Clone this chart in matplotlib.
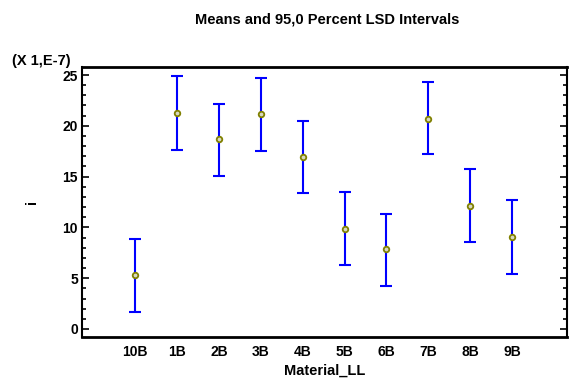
import matplotlib
matplotlib.use("Agg")
import matplotlib.pyplot as plt
from matplotlib.ticker import MultipleLocator

categories = ["10B", "1B", "2B", "3B", "4B", "5B", "6B", "7B", "8B", "9B"]
means = [5.29, 21.29, 18.70, 21.16, 16.90, 9.81, 7.84, 20.67, 12.08, 9.06]
lower = [1.64, 17.65, 15.09, 17.52, 13.42, 6.33, 4.23, 17.19, 8.60, 5.44]
upper = [8.89, 24.93, 22.18, 24.73, 20.50, 13.45, 11.32, 24.28, 15.72, 12.66]
yticks = [0, 5, 10, 15, 20, 25]

plt.rcParams['font.family'] = ['Liberation Sans', 'DejaVu Sans']
plt.rcParams['font.weight'] = 'bold'

fig = plt.figure(figsize=(5.69, 3.79), dpi=100)
ax = fig.add_axes([82/569, 1-337/379, (567-82)/569, (337-67)/379])

x = list(range(len(categories)))
yerr = [[m - l for m, l in zip(means, lower)], [u - m for m, u in zip(means, upper)]]
ax.errorbar(x, means, yerr=yerr, fmt='none', ecolor='#0000FF', elinewidth=1.5,
            capsize=4, capthick=1.5, zorder=2)
ax.plot(x, means, linestyle='none', marker='o', markersize=4,
        markerfacecolor='#D8D8C0', markeredgecolor='#808000', markeredgewidth=1.3, zorder=3)

ax.set_xlim(-1.27, 10.31)
ax.set_ylim(-0.79, 25.79)
ax.set_xticks(x)
ax.set_xticklabels(categories, fontsize=10, fontweight='bold')
ax.tick_params(axis='x', length=0, pad=6)
ax.set_yticks(yticks)
ax.set_yticklabels([str(v) for v in yticks], fontsize=10, fontweight='bold')
ax.yaxis.set_minor_locator(MultipleLocator(1))
ax.tick_params(axis='y', which='major', direction='in', length=5, width=1.2,
               left=True, right=True, pad=3)
ax.tick_params(axis='y', which='minor', direction='in', length=3, width=1.2,
               left=True, right=True)

for side in ['top', 'bottom']:
    ax.spines[side].set_linewidth(2)
for side in ['left', 'right']:
    ax.spines[side].set_linewidth(1.5)

ax.set_xlabel("Material_LL", fontsize=10.5, fontweight='bold', labelpad=3)
ax.set_ylabel("i", fontsize=10.5, fontweight='bold', labelpad=17)
fig.text(327/569, 1-19/379, "Means and 95,0 Percent LSD Intervals", ha='center', va='center',
         fontsize=10.5, fontweight='bold')
fig.text(12/569, 1-61/379, "(X 1,E-7)", ha='left', va='center', fontsize=10.5, fontweight='bold')

fig.savefig("out.png", dpi=100)
